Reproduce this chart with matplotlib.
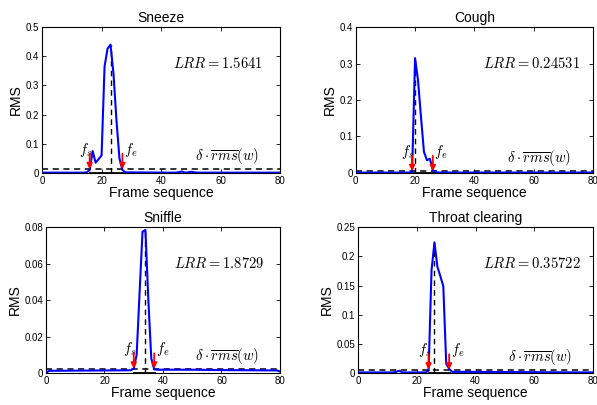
import numpy as np
import matplotlib
matplotlib.use('Agg')
import matplotlib.pyplot as plt

plt.rcParams['font.family'] = ['Liberation Sans', 'DejaVu Sans']
plt.rcParams['mathtext.fontset'] = 'cm'

###---data---###
titles = ['Sneeze', 'Cough', 'Sniffle', 'Throat clearing']

sneeze_f = [0, 14, 15, 16, 17, 18, 20, 21, 22, 23, 24, 25, 26, 27, 28, 45, 47, 48, 49, 50, 52, 80]
sneeze_v = [0.001, 0.001, 0.002, 0.01, 0.075, 0.035, 0.06, 0.365, 0.426, 0.44, 0.34, 0.18,
            0.05, 0.01, 0.002, 0.001, 0.005, 0.001, 0.002, 0.004, 0.001, 0.001]

cough_f = [0, 18, 19, 20, 21, 22, 23, 24, 25, 26, 27, 28, 80]
cough_v = [0.001, 0.001, 0.002, 0.315, 0.254, 0.153, 0.058, 0.035, 0.039, 0.007, 0.002, 0.001, 0.001]

sniffle_f = [0, 1, 10, 20, 29, 30, 31, 32, 33, 34, 35, 36, 37, 38, 50, 60, 70, 79, 80]
sniffle_v = [0.0, 0.0012, 0.0013, 0.0014, 0.0015, 0.0025, 0.010, 0.044, 0.0775, 0.0785,
             0.040, 0.008, 0.002, 0.0018, 0.0018, 0.0016, 0.0015, 0.0014, 0.0008]

throat_f = [0, 12, 13, 14, 15, 23, 24, 25, 26, 27, 28, 29, 30, 31, 32, 80]
throat_v = [0.001, 0.001, 0.002, 0.004, 0.001, 0.001, 0.004, 0.176, 0.224, 0.182, 0.166,
            0.149, 0.016, 0.007, 0.002, 0.001]

frames = [sneeze_f, cough_f, sniffle_f, throat_f]
rms = [sneeze_v, cough_v, sniffle_v, throat_v]

thresholds = [0.013, 0.005, 0.0024, 0.006]
peak_frame = [23, 20, 34, 26]
fs_frame = [16, 19, 30, 24]
fe_frame = [27, 26, 37, 31]
lrr = ['1.5641', '0.24531', '1.8729', '0.35722']

ymax = [0.5, 0.4, 0.08, 0.25]
yticks = [[0, 0.1, 0.2, 0.3, 0.4, 0.5],
          [0, 0.1, 0.2, 0.3, 0.4],
          [0, 0.02, 0.04, 0.06, 0.08],
          [0, 0.05, 0.1, 0.15, 0.2, 0.25]]
ytick_labels = [['0', '0.1', '0.2', '0.3', '0.4', '0.5'],
                ['0', '0.1', '0.2', '0.3', '0.4'],
                ['0', '0.02', '0.04', '0.06', '0.08'],
                ['0', '0.05', '0.1', '0.15', '0.2', '0.25']]
xticks = [0, 20, 40, 60, 80]

###---figure---###
fig = plt.figure(figsize=(5.97, 4.05), dpi=100)
boxes = [[0.0704, 0.573, 0.399, 0.360],
         [0.5960, 0.573, 0.397, 0.360],
         [0.0770, 0.079, 0.392, 0.360],
         [0.5997, 0.079, 0.394, 0.360]]

for i in range(4):
    ax = fig.add_axes(boxes[i])
    f = frames[i]
    v = rms[i]
    thr = thresholds[i]
    pk = peak_frame[i]
    pk_val = v[f.index(pk)]

    # threshold line
    ax.axhline(thr, color='k', ls='--', lw=1.1, dashes=(4, 3), zorder=2)
    # peak marker
    ax.plot([pk, pk], [0, pk_val], 'k--', lw=1.0, dashes=(4, 3), zorder=2)
    ax.plot([fs_frame[i], fe_frame[i]], [0, 0], 'k-', lw=2.0, zorder=2)
    ax.plot(f, v, color='#0000ff', lw=1.5, zorder=3)

    # start/end arrows
    for fr, lab, dx in [(fr_, lb_, d_) for fr_, lb_, d_ in
                        [(fs_frame[i], '$f_s$', -3), (fe_frame[i], '$f_e$', 6)]]:
        ax.annotate('', xy=(fr, thr), xytext=(0, 11), textcoords='offset points',
                    arrowprops=dict(arrowstyle='-|>', color='red', lw=1.3,
                                    mutation_scale=8, shrinkA=0, shrinkB=0), zorder=4)
        ax.annotate(lab, xy=(fr, thr), xytext=(dx, 14), textcoords='offset points',
                    ha='center', va='center', fontsize=10.5)

    ax.annotate(r'$\delta\cdot\overline{rms}(w)$', xy=(62, thr), xytext=(0, 2),
                textcoords='offset points', ha='center', va='bottom', fontsize=10.5)
    ax.text(0.74, 0.75, r'$LRR = %s$' % lrr[i], transform=ax.transAxes,
            ha='center', va='center', fontsize=10.5)

    ax.set_xlim(0, 80)
    ax.set_ylim(0, ymax[i])
    ax.set_xticks(xticks)
    ax.set_yticks(yticks[i])
    ax.set_yticklabels(ytick_labels[i])
    ax.tick_params(direction='in', top=True, right=True, length=3, width=0.6,
                   labelsize=7, pad=2)
    for s in ax.spines.values():
        s.set_linewidth(0.8)
    ax.set_title(titles[i], fontsize=10, pad=4)
    ax.set_xlabel('Frame sequence', fontsize=10, labelpad=0)
    ax.set_ylabel('RMS', fontsize=10, labelpad=2)

fig.savefig('out.png', dpi=100)
